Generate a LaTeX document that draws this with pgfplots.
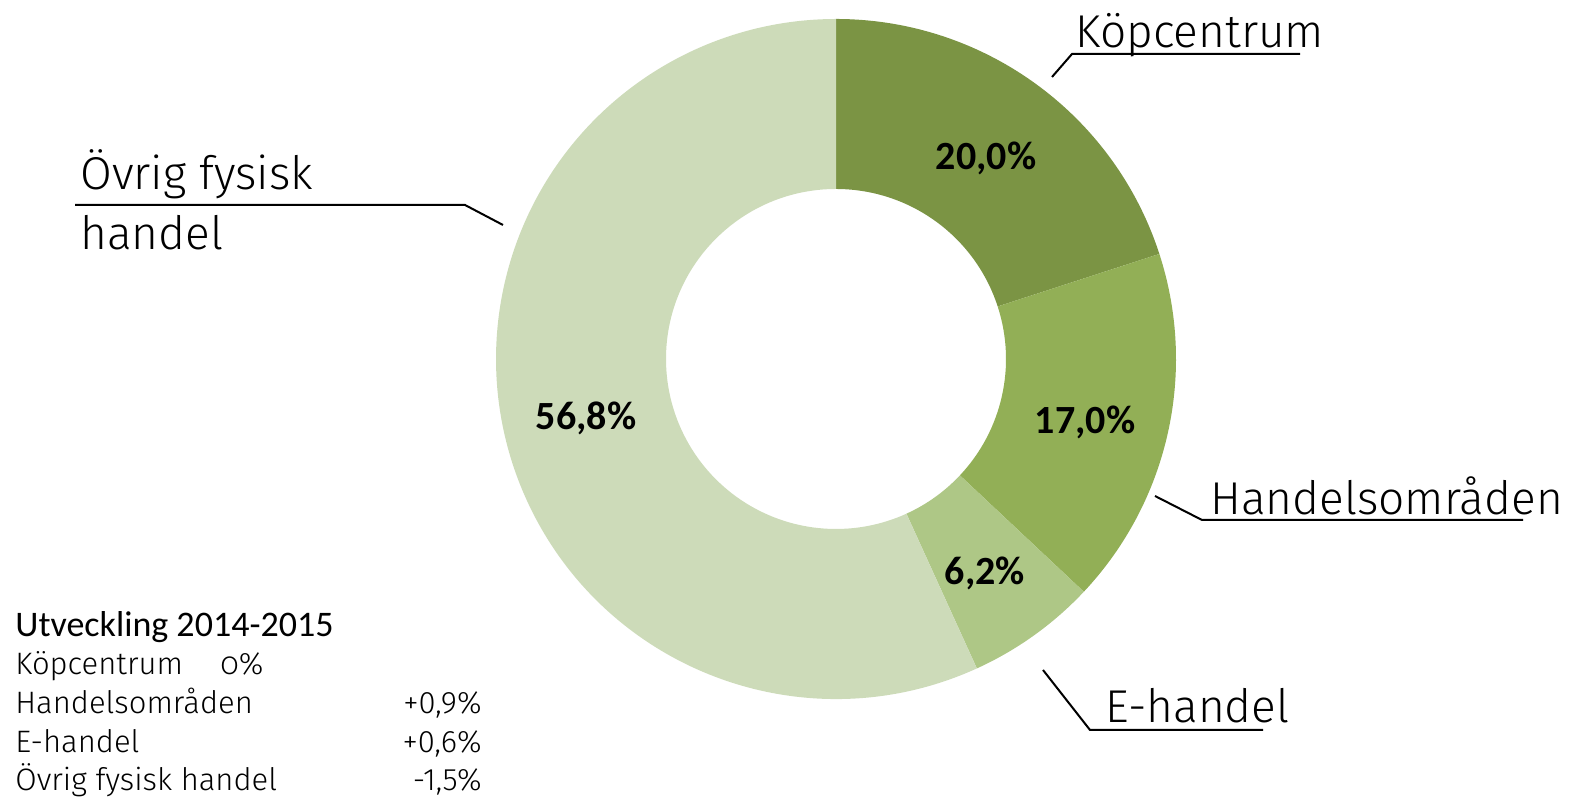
\documentclass[border=0pt]{standalone}
\usepackage{pgfplots}
\pgfplotsset{compat=1.18}
\usepackage{pgfplotstable}
\usepackage{fontspec}
\setmainfont{Fira Sans}[UprightFont=* Light, BoldFont=*]
\newfontfamily\calibri{Carlito}
\definecolor{cKop}{HTML}{7B9444}
\definecolor{cHan}{HTML}{92AF56}
\definecolor{cEh}{HTML}{AEC786}
\definecolor{cOvr}{HTML}{CDDBB9}
\pgfplotstableread{
share
20.0
17.0
6.2
56.8
}\shares
\newcommand\sector[3]{%
  \fill[#3] ([shift={(#1:170pt)}]C) arc[start angle=#1, end angle=#2, radius=170pt]
    -- ([shift={(#2:85pt)}]C) arc[start angle=#2, end angle=#1, radius=85pt] -- cycle;}
\newcommand\pct[1]{\pgfmathprintnumber[fixed,fixed zerofill,precision=1,use comma,assume math mode=true]{#1}\%}
\begin{document}
\begin{tikzpicture}
\pgfplotstablegetelem{0}{share}\of\shares \let\sA\pgfplotsretval
\pgfplotstablegetelem{1}{share}\of\shares \let\sB\pgfplotsretval
\pgfplotstablegetelem{2}{share}\of\shares \let\sC\pgfplotsretval
\pgfplotstablegetelem{3}{share}\of\shares \let\sD\pgfplotsretval
\pgfmathsetmacro{\aA}{90}
\pgfmathsetmacro{\aB}{90-3.6*\sA}
\pgfmathsetmacro{\aC}{\aB-3.6*\sB}
\pgfmathsetmacro{\aD}{\aC-3.6*\sC}
\pgfmathsetmacro{\aE}{\aD-3.6*\sD}
\begin{axis}[x=0.5pt, y=0.5pt, xmin=0, xmax=1570, ymin=-801, ymax=0,
  hide axis, clip=false, scale only axis]
\path (axis cs:0,0) rectangle (axis cs:1570,-801);
\coordinate (C) at (axis cs:836,-359);
\sector{\aA}{\aB}{cKop}
\sector{\aB}{\aC}{cHan}
\sector{\aC}{\aD}{cEh}
\sector{\aD}{\aE}{cOvr}
% percentage labels
\begin{scope}[every node/.style={font=\calibri\bfseries\fontsize{20}{24}\selectfont, inner sep=0pt}]
\node at (axis cs:986,-158) {\pct{\sA}};
\node at (axis cs:1085,-422) {\pct{\sB}};
\node at (axis cs:985,-573) {\pct{\sC}};
\node at (axis cs:586,-418) {\pct{\sD}};
\end{scope}
% leader lines
\draw[line width=1pt] (axis cs:1052,-77) -- (axis cs:1072,-54) -- (axis cs:1300,-54);
\draw[line width=1pt] (axis cs:503,-225) -- (axis cs:465,-205) -- (axis cs:75,-205);
\draw[line width=1pt] (axis cs:1155,-496) -- (axis cs:1202,-520) -- (axis cs:1523,-520);
\draw[line width=1pt] (axis cs:1043,-670) -- (axis cs:1090,-730) -- (axis cs:1263,-730);
% category labels
\begin{scope}[every node/.style={font=\fontsize{23}{27}\selectfont, inner sep=0pt, anchor=base west}]
\node at (axis cs:1075,-48) {Köpcentrum};
\node at (axis cs:80,-190) {Övrig fysisk};
\node at (axis cs:80,-250) {handel};
\node at (axis cs:1210,-515) {Handelsområden};
\node at (axis cs:1105,-723) {E-handel};
\end{scope}
% development table
\node[font=\calibri\fontsize{18}{21}\selectfont, inner sep=0pt, anchor=base west] at (axis cs:15,-637) {Utveckling 2014-2015};
\begin{scope}[every node/.style={font=\fontsize{15.5}{18}\selectfont, inner sep=0pt}]
\node[anchor=base west] at (axis cs:15,-675) {Köpcentrum};
\node[anchor=base west] at (axis cs:220,-675) {\addfontfeatures{Numbers=OldStyle}0\%};
\node[anchor=base west] at (axis cs:15,-714) {Handelsområden};
\node[anchor=base east] at (axis cs:482,-714) {+0,9\%};
\node[anchor=base west] at (axis cs:15,-753) {E-handel};
\node[anchor=base east] at (axis cs:482,-753) {+0,6\%};
\node[anchor=base west] at (axis cs:15,-791) {Övrig fysisk handel};
\node[anchor=base east] at (axis cs:482,-791) {-1,5\%};
\end{scope}
\end{axis}
\end{tikzpicture}
\end{document}
